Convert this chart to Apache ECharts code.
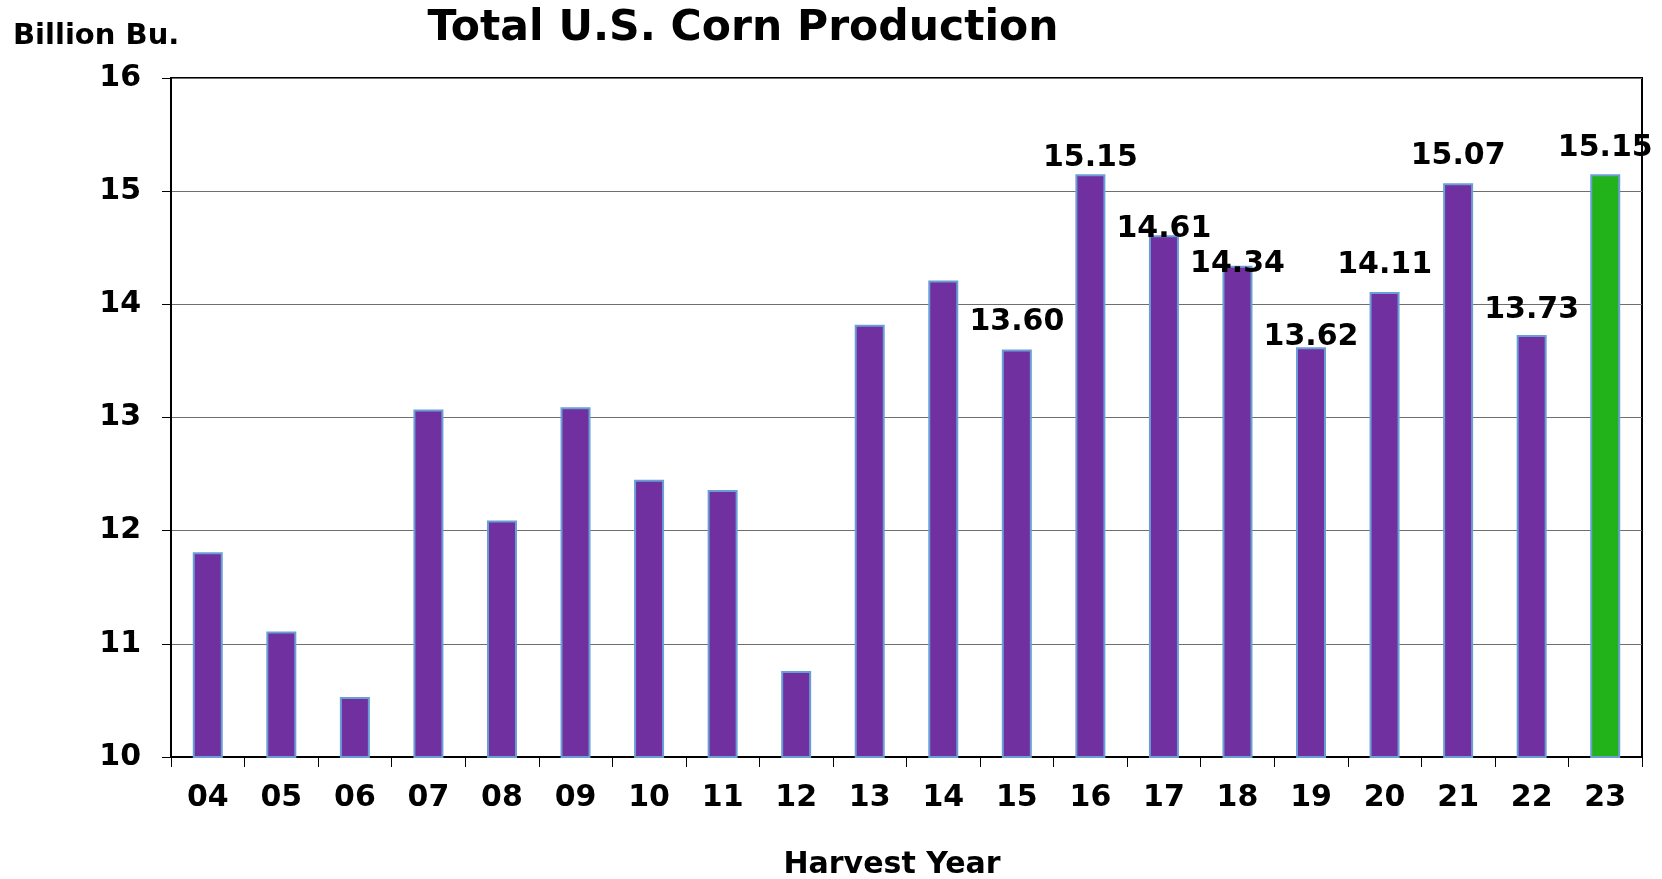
<!DOCTYPE html>
<html><head><meta charset="utf-8">
<script src="https://cdn.jsdelivr.net/npm/echarts@6/dist/echarts.min.js"></script>
<style>html,body{margin:0;padding:0;background:#fff}#c{width:1662px;height:879px}</style>
</head><body><div id="c"></div>
<script>
const years = ['04','05','06','07','08','09','10','11','12','13','14','15','16','17','18','19','20','21','22','23'];
const production = [11.81,11.11,10.53,13.07,12.09,13.09,12.45,12.36,10.76,13.82,14.21,13.60,15.15,14.61,14.34,13.62,14.11,15.07,13.73,15.15];
const labelled = [false,false,false,false,false,false,false,false,false,false,false,true,true,true,true,true,true,true,true,true];
const yTicks = [10,11,12,13,14,15,16];
// label vertical nudges (layout only)
const labelLift = [0,0,0,0,0,0,0,0,0,0,0,12,1,-9,-13,-5,12,12,10,11];

const FONT = '"DejaVu Sans", Verdana, sans-serif';
const purple = '#7030a0', green = '#22b21a', edge = '#6a9fd6';

const data = production.map((v, i) => ({
  value: v,
  itemStyle: { color: i === production.length - 1 ? green : purple },
  label: labelled[i] ? { show: true, position: 'top', distance: labelLift[i], formatter: p => p.value.toFixed(2) } : { show: false }
}));

const chart = echarts.init(document.getElementById('c'));
chart.setOption({
  animation: false,
  grid: { left: 171, right: 20, top: 78, bottom: 122, show: true, borderColor: '#000', borderWidth: 2, backgroundColor: 'transparent' },
  graphic: [
    { type: 'text', style: { text: 'Total U.S. Corn Production', font: 'bold 42.5px ' + FONT, fill: '#000', x: 743, y: 29, align: 'center', verticalAlign: 'middle' } },
    { type: 'text', style: { text: 'Billion Bu.', font: 'bold 29px ' + FONT, fill: '#000', x: 13, y: 36, align: 'left', verticalAlign: 'middle' } },
    { type: 'text', style: { text: 'Harvest Year', font: 'bold 30px ' + FONT, fill: '#000', x: 892, y: 865, align: 'center', verticalAlign: 'middle' } }
  ],
  xAxis: {
    type: 'category', data: years,
    axisLine: { lineStyle: { color: '#000', width: 2 } },
    axisTick: { show: true, length: 10, alignWithLabel: false, lineStyle: { color: '#000', width: 1 } },
    axisLabel: { color: '#000', fontFamily: FONT, fontWeight: 'bold', fontSize: 30, margin: 26 }
  },
  yAxis: {
    type: 'value', min: 10, max: 16, interval: 1,
    axisLine: { show: true, lineStyle: { color: '#000', width: 2 } },
    axisTick: { show: true, length: 9, lineStyle: { color: '#000' } },
    axisLabel: { color: '#000', fontFamily: FONT, fontWeight: 'bold', fontSize: 30, margin: 30, formatter: v => yTicks.includes(v) ? String(v) : '' },
    splitLine: { lineStyle: { color: '#6e6e6e', width: 1.2 } }
  },
  series: [{
    type: 'bar', data: data, barWidth: 30,
    itemStyle: { borderColor: edge, borderWidth: 2 },
    label: { color: '#000', fontFamily: FONT, fontWeight: 'bold', fontSize: 30 }
  }]
});
</script></body></html>
